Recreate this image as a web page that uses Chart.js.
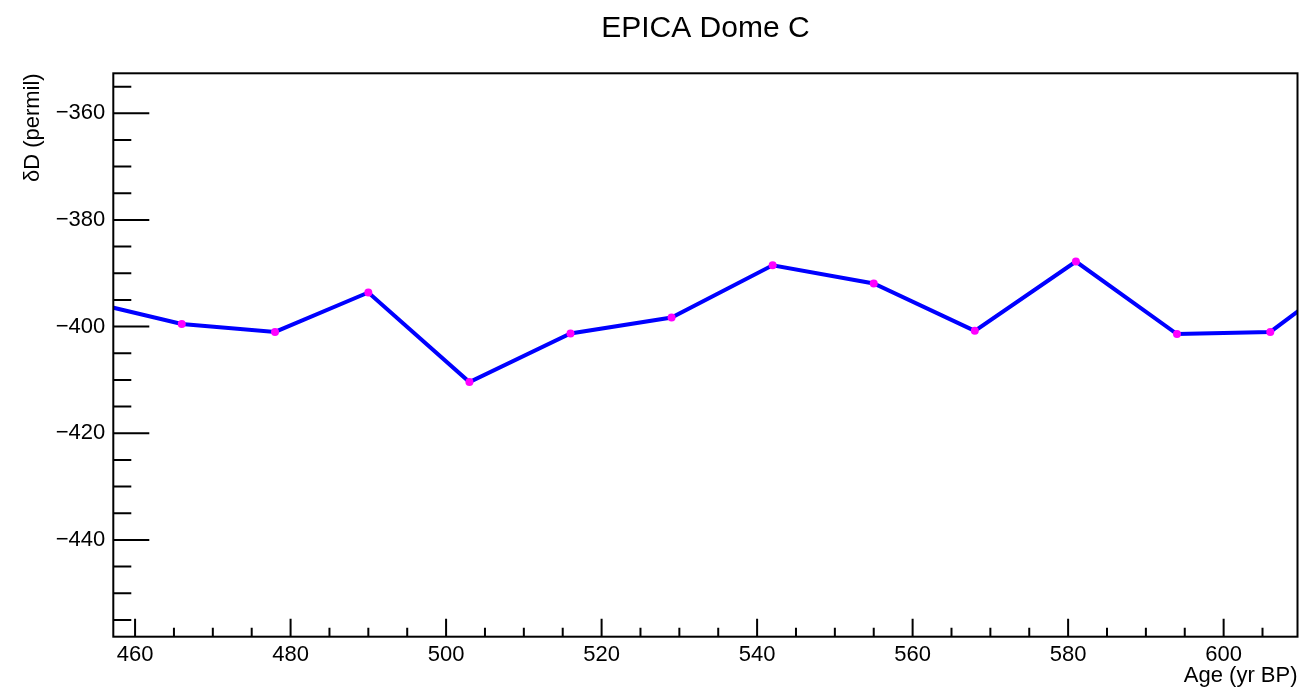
<!DOCTYPE html>
<html>
<head>
<meta charset="utf-8">
<script src="https://cdn.jsdelivr.net/npm/chart.js@4.4.1/dist/chart.umd.min.js"></script>
<style>
  body { margin: 0; background: #fff; }
  #wrap { width: 1303px; height: 687px; position: relative; }
</style>
</head>
<body>
<div id="wrap"><canvas id="epicaChart"></canvas></div>
<script>
// Age (yr BP) and deltaD (permil)
const ages = [453, 466, 478, 490, 503, 516, 529, 542, 555, 568, 581, 594, 606, 619];
const deltaD = [-395.0, -399.5, -401.0, -393.6, -410.4, -401.3, -398.3, -388.5, -391.9, -400.8, -387.8, -401.4, -401.0, -386.8];

const xTicks = [460, 480, 500, 520, 540, 560, 580, 600];
const yTicks = [-440, -420, -400, -380, -360];
const xRange = [457.2, 609.5];
const yRange = [-458.15, -352.5];

const FONT = "'Liberation Sans', Arial, Helvetica, sans-serif";

// ROOT style frame with inward major/minor ticks
const frameTicks = {
  id: "frameTicks",
  afterDatasetsDraw(chart) {
    const { ctx, chartArea: a, scales: { x, y } } = chart;
    ctx.save();
    ctx.strokeStyle = "#000";
    ctx.lineWidth = 2;
    ctx.strokeRect(a.left, a.top, a.right - a.left, a.bottom - a.top);

    ctx.beginPath();
    for (let v = Math.ceil(xRange[0] / 5) * 5; v <= xRange[1]; v += 5) {
      const px = x.getPixelForValue(v);
      const len = v % 20 === 0 ? 18 : 9;
      ctx.moveTo(px, a.bottom);
      ctx.lineTo(px, a.bottom - len);
    }
    for (let v = Math.ceil(yRange[0] / 5) * 5; v <= yRange[1]; v += 5) {
      const py = y.getPixelForValue(v);
      const len = v % 20 === 0 ? 36 : 18;
      ctx.moveTo(a.left, py);
      ctx.lineTo(a.left + len, py);
    }
    ctx.stroke();
    ctx.restore();
  }
};

const points = ages.map((a, i) => ({ x: a, y: deltaD[i] }));

new Chart(document.getElementById("epicaChart"), {
  type: "line",
  data: {
    datasets: [{
      data: points,
      borderColor: "#0000ff",
      borderWidth: 4,
      pointRadius: 4,
      pointBackgroundColor: "#ff00ff",
      pointBorderWidth: 0,
      tension: 0,
      clip: 0
    }]
  },
  options: {
    responsive: true,
    maintainAspectRatio: false,
    animation: false,
    layout: { padding: { left: 0, right: 5.5, top: 0, bottom: 0 } },
    plugins: {
      legend: { display: false },
      tooltip: { enabled: false },
      title: {
        display: true,
        fullSize: false,
        text: "EPICA Dome C",
        color: "#000",
        font: { family: FONT, size: 30, weight: "normal", lineHeight: 1.2 },
        padding: { top: 11, bottom: 26.3 }
      }
    },
    scales: {
      x: {
        type: "linear",
        min: xRange[0],
        max: xRange[1],
        grid: { display: false, drawTicks: false },
        border: { display: false },
        afterBuildTicks: s => { s.ticks = xTicks.map(v => ({ value: v })); },
        afterFit: s => { s.height = 50.3; },
        ticks: {
          color: "#000",
          padding: 5,
          maxRotation: 0,
          autoSkip: false,
          font: { family: FONT, size: 22 },
          callback: v => String(v)
        },
        title: {
          display: true,
          text: "Age (yr BP)",
          align: "end",
          color: "#000",
          padding: 0,
          font: { family: FONT, size: 22, lineHeight: 1 }
        }
      },
      y: {
        type: "linear",
        min: yRange[0],
        max: yRange[1],
        grid: { display: false, drawTicks: false },
        border: { display: false },
        afterBuildTicks: s => { s.ticks = yTicks.map(v => ({ value: v })); },
        afterFit: s => { s.width = 113.3; },
        ticks: {
          color: "#000",
          padding: 8,
          autoSkip: false,
          font: { family: FONT, size: 22 },
          callback: v => String(v).replace("-", "\u2212")
        },
        title: {
          display: true,
          text: "\u03b4D (permil)",
          align: "end",
          color: "#000",
          padding: { top: 22, bottom: 0 },
          font: { family: FONT, size: 22, lineHeight: 1 }
        }
      }
    }
  },
  plugins: [frameTicks]
});
</script>
</body>
</html>
